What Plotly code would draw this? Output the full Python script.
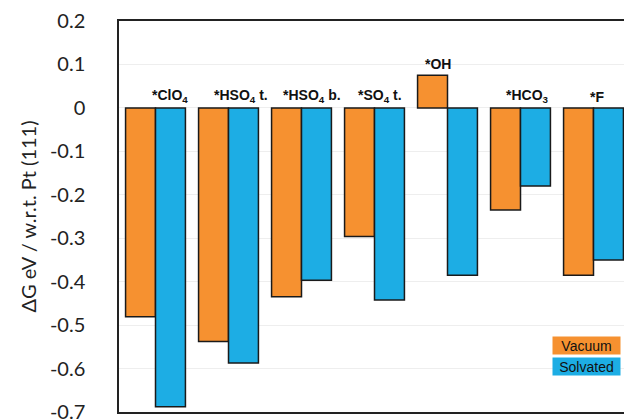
import plotly.graph_objects as go

categories = ["*ClO<sub>4</sub>", "*HSO<sub>4</sub> t.", "*HSO<sub>4</sub> b.", "*SO<sub>4</sub> t.",
              "*OH", "*HCO<sub>3</sub>", "*F"]
vacuum = [-0.481, -0.538, -0.435, -0.296, 0.075, -0.235, -0.385]
solvated = [-0.688, -0.587, -0.397, -0.442, -0.385, -0.180, -0.350]
tick_vals = [0.2, 0.1, 0.0, -0.1, -0.2, -0.3, -0.4, -0.5, -0.6, -0.7]
tick_text = ["0.2", "0.1", "0", "-0.1", "-0.2", "-0.3", "-0.4", "-0.5", "-0.6", "-0.7"]
series_names = ["Vacuum", "Solvated"]

ORANGE = "#F69130"
BLUE = "#1DADE4"
label_xshift = [14, 12, 10, 5, -10, 7, 3]
legend_y = [0.170, 0.1165]

x = list(range(len(categories)))

fig = go.Figure()
fig.add_trace(go.Bar(x=x, y=vacuum, name=series_names[0], marker=dict(color=ORANGE, line=dict(color="#1a1a1a", width=1.5))))
fig.add_trace(go.Bar(x=x, y=solvated, name=series_names[1], marker=dict(color=BLUE, line=dict(color="#1a1a1a", width=1.5))))

for i, c in enumerate(categories):
    top = max(0, vacuum[i], solvated[i])
    fig.add_annotation(x=i, y=top, text="<b>" + c + "</b>", showarrow=False, yanchor="bottom",
                       yshift=1, xshift=label_xshift[i],
                       font=dict(family="Liberation Sans, Arial", size=14, color="#111"))

for j, (name, col) in enumerate(zip(series_names, [ORANGE, BLUE])):
    fig.add_annotation(xref="paper", yref="paper", x=0.982, y=legend_y[j], text=name, showarrow=False,
                       xanchor="right", yanchor="middle", bgcolor=col, width=65, height=15,
                       font=dict(family="Liberation Sans, Arial", size=14, color="#111"))

# page body has an 8px default margin; figure is sized/positioned to compensate
fig.update_layout(
    width=624, height=430,
    margin=dict(l=111, r=0, t=13, b=26),
    barmode="group", bargap=0.18, bargroupgap=0,
    plot_bgcolor="white", paper_bgcolor="white",
    showlegend=False,
    font=dict(family="Lato, Open Sans, sans-serif", color="#222"),
)
fig.update_xaxes(range=[-0.5, 6.5], showticklabels=False, ticks="", showgrid=False,
                 showline=True, linecolor="#222", linewidth=1.5, mirror=True, zeroline=False)
fig.update_yaxes(range=[-0.7, 0.2], tickvals=tick_vals, ticktext=tick_text, ticks="",
                 ticklabelstandoff=28, tickfont=dict(size=20, color="#222"),
                 showgrid=True, gridcolor="#EEEEEE", gridwidth=1, zeroline=False,
                 showline=True, linecolor="#222", linewidth=1.5, mirror=True,
                 title=dict(text="ΔG eV / w.r.t. Pt (111)", font=dict(size=20, color="#222"), standoff=8))

fig.write_html("out.html")
